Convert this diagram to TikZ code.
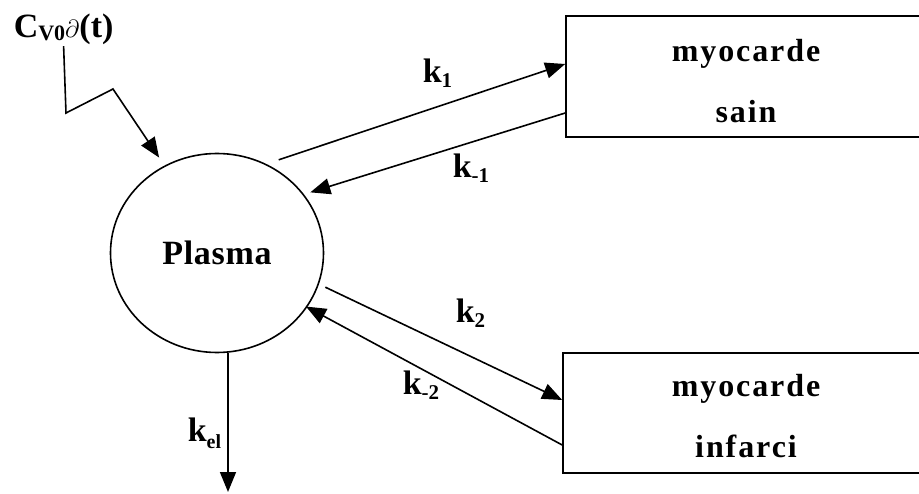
\documentclass[tikz,border=0pt]{standalone}
\usepackage{fontspec}
\setmainfont{Liberation Serif}
\usetikzlibrary{shapes.geometric,arrows.meta}
\begin{document}
\begin{tikzpicture}[x=1pt,y=-1pt,
  line width=1.6pt,
  arr/.style={-{Triangle[length=20pt,width=16pt]}},
  compbox/.style={draw,rectangle,inner sep=0pt},
  boxtxt/.style={font=\fontsize{32}{61}\selectfont\bfseries\addfontfeature{LetterSpace=6},align=center,inner sep=0pt},
  klab/.style={font=\fontsize{34}{34}\selectfont\bfseries,inner sep=0pt,anchor=base west},
]
\path[fill=white,use as bounding box] (0,0) rectangle (919,494);

% compartments
\node[draw,ellipse,minimum width=213pt,minimum height=199pt,inner sep=0pt,
      font=\fontsize{34}{34}\selectfont\bfseries\addfontfeature{LetterSpace=2}] (plasma) at (217,253) {Plasma};
\node[compbox,minimum width=364pt,minimum height=121pt] (sain) at (748,76.5) {};
\node[boxtxt] (saintxt) at (746,81) {myocarde\\sain};
\node[compbox,minimum width=367pt,minimum height=120pt] (infarci) at (746.5,413) {};
\node[boxtxt] (infarcitxt) at (746,416) {myocarde\\infarci};

% input
\node[klab,anchor=base west] (cv) at (13,38) {C\raisebox{-3pt}{\fontsize{22}{22}\selectfont V0}$\partial$(t)};
\coordinate (c1) at (66,113);
\coordinate (c2) at (113,89);
\draw[arr,shorten >=9.6pt] (cv.south) -- (c1) -- (c2) -- (plasma.121);

% exchanges
\draw[arr,shorten <=13pt] (plasma.61) -- ([yshift=12.5pt]sain.west);
\draw[arr,shorten >=6.6pt] ([yshift=-36.5pt]sain.west) -- (plasma.34);
\draw[arr,shorten <=7pt] (plasma.-17) -- ([yshift=13pt]infarci.west);
\draw[arr,shorten >=-1.4pt] ([yshift=-32pt]infarci.west) -- (plasma.-31.5);

% elimination
\coordinate (out) at (228,492);
\draw[arr] ([xshift=11pt]plasma.south) -- (out);

% rate labels
\node[klab] (k1) at (422,83) {k\raisebox{-5pt}{\fontsize{21}{21}\selectfont 1}};
\node[klab] (km1) at (452,178) {k\raisebox{-5pt}{\fontsize{21}{21}\selectfont -1}};
\node[klab] (k2) at (455,323) {k\raisebox{-5pt}{\fontsize{21}{21}\selectfont 2}};
\node[klab] (km2) at (402,395) {k\raisebox{-5pt}{\fontsize{21}{21}\selectfont -2}};
\node[klab] (kel) at (187,442) {k\raisebox{-6pt}{\fontsize{20}{20}\selectfont el}};
\end{tikzpicture}
\end{document}
